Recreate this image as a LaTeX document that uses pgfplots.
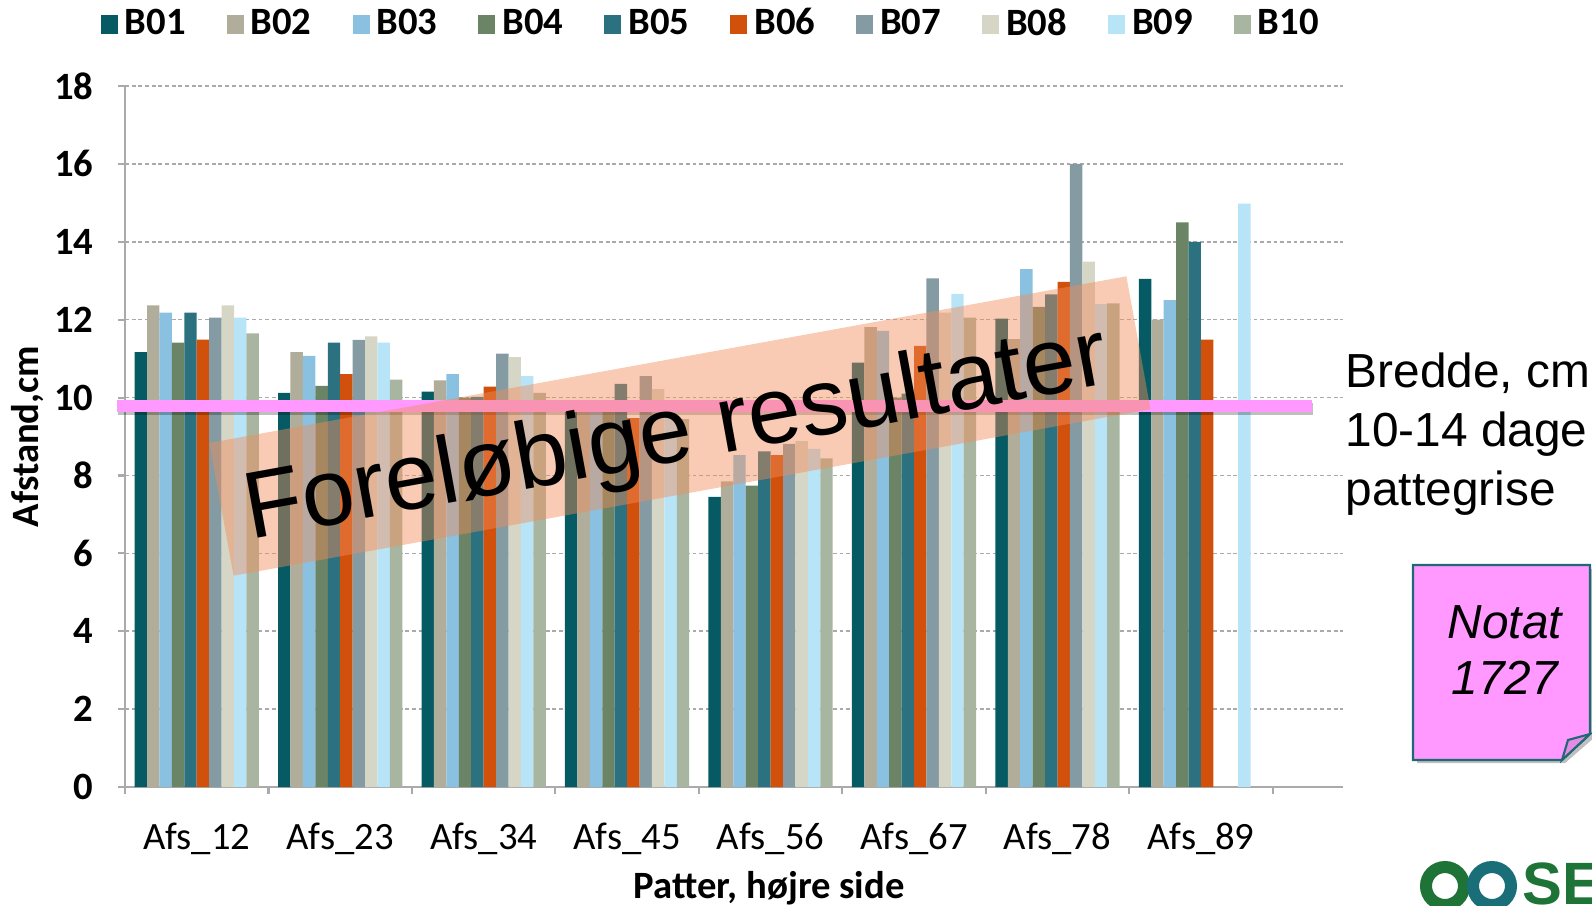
\documentclass[border=0pt]{standalone}
\usepackage{fontspec}
\setmainfont{Carlito}
\newfontfamily\arial{Liberation Sans}
\usepackage{pgfplots}
\pgfplotsset{compat=1.18}
\definecolor{cB01}{RGB}{5,90,99}
\definecolor{cB02}{RGB}{176,174,154}
\definecolor{cB03}{RGB}{139,193,224}
\definecolor{cB04}{RGB}{107,132,102}
\definecolor{cB05}{RGB}{43,113,128}
\definecolor{cB06}{RGB}{208,80,12}
\definecolor{cB07}{RGB}{133,155,163}
\definecolor{cB08}{RGB}{214,214,198}
\definecolor{cB09}{RGB}{184,228,248}
\definecolor{cB10}{RGB}{168,181,160}
\definecolor{gridgray}{RGB}{170,170,170}
\definecolor{pinkline}{RGB}{255,153,255}
\definecolor{ovl}{RGB}{242,140,90}
\definecolor{notefill}{RGB}{255,153,255}
\definecolor{noteedge}{RGB}{30,105,115}
\definecolor{logogreen}{RGB}{30,115,55}
\definecolor{logoteal}{RGB}{25,110,120}
\pgfplotsset{sqlegend/.style={legend image code/.code={\fill[##1] (0cm,-0.095cm) rectangle (0.17cm,0.095cm);}}}
\begin{document}
\begin{tikzpicture}
\path[use as bounding box] (0,0) rectangle (15.92,-9.05);
\begin{scope}
\clip (0,0) rectangle (15.92,-9.05);
\begin{axis}[
  at={(1.25cm,-7.87cm)}, anchor=south west,
  scale only axis, width=12.18cm, height=7.01cm,
  ybar, bar width=0.0866,
  xmin=-0.5, xmax=7.99, ymin=0, ymax=18,
  axis lines*=left,
  axis line style={-, draw=gridgray, line width=0.7pt},
  xtick={0,...,7},
  xticklabels={Afs\_12,Afs\_23,Afs\_34,Afs\_45,Afs\_56,Afs\_67,Afs\_78,Afs\_89},
  major x tick style={draw=none},
  minor xtick={-0.5,0.5,...,7.5},
  minor tick length=0.07cm,
  major tick length=0.07cm,
  tick align=outside,
  tick style={draw=gridgray, line width=0.6pt},
  ytick={0,2,...,18},
  ymajorgrids,
  grid style={draw=gridgray, line width=0.45pt, dash pattern=on 1.1pt off 0.8pt},
  /pgf/number format/assume math mode=true,
  tick label style={font=\fontsize{11pt}{13pt}\selectfont},
  yticklabel style={font=\fontsize{11pt}{13pt}\selectfont\bfseries, xshift=-0.12cm},
  xticklabel style={yshift=-0.17cm},
  ylabel={Afstand,cm},
  ylabel style={at={(axis description cs:-0.0797,0.5)}, anchor=center, font=\fontsize{11pt}{13pt}\selectfont\bfseries},
  xlabel={Patter, højre side},
  xlabel style={at={(axis description cs:0.529,-0.145)}, anchor=center, font=\fontsize{11pt}{13pt}\selectfont\bfseries},
  legend columns=10,
  legend style={at={(axis description cs:0.483,1.088)}, anchor=center, draw=none, fill=none,
    font=\fontsize{11pt}{13pt}\selectfont\bfseries,
    /tikz/every even column/.append style={column sep=0.34cm}},
]
\addplot[sqlegend, fill=cB01, draw=none, bar shift=-0.3897] coordinates {(0,11.17) (1,10.12) (2,10.15) (3,9.85) (4,7.45) (5,10.90) (6,12.03) (7,13.05)};
\addplot[sqlegend, fill=cB02, draw=none, bar shift=-0.3031] coordinates {(0,12.37) (1,11.17) (2,10.44) (3,9.85) (4,7.85) (5,11.81) (6,11.50) (7,12.00)};
\addplot[sqlegend, fill=cB03, draw=none, bar shift=-0.2165] coordinates {(0,12.18) (1,11.07) (2,10.60) (3,9.80) (4,8.52) (5,11.71) (6,13.30) (7,12.50)};
\addplot[sqlegend, fill=cB04, draw=none, bar shift=-0.1299] coordinates {(0,11.41) (1,10.30) (2,10.00) (3,9.90) (4,7.74) (5,10.00) (6,12.33) (7,14.50)};
\addplot[sqlegend, fill=cB05, draw=none, bar shift=-0.0433] coordinates {(0,12.18) (1,11.41) (2,10.02) (3,10.35) (4,8.62) (5,10.10) (6,12.65) (7,14.00)};
\addplot[sqlegend, fill=cB06, draw=none, bar shift=0.0433] coordinates {(0,11.49) (1,10.60) (2,10.28) (3,9.47) (4,8.52) (5,11.33) (6,12.97) (7,11.49)};
\addplot[sqlegend, fill=cB07, draw=none, bar shift=0.1299] coordinates {(0,12.05) (1,11.48) (2,11.13) (3,10.55) (4,8.81) (5,13.06) (6,16.00)};
\addplot[sqlegend, fill=cB08, draw=none, bar shift=0.2165] coordinates {(0,12.37) (1,11.57) (2,11.04) (3,10.22) (4,8.88) (5,12.18) (6,13.49)};
\addplot[sqlegend, fill=cB09, draw=none, bar shift=0.3031] coordinates {(0,12.05) (1,11.41) (2,10.55) (3,9.60) (4,8.68) (5,12.66) (6,12.40) (7,14.98)};
\addplot[sqlegend, fill=cB10, draw=none, bar shift=0.3897] coordinates {(0,11.65) (1,10.46) (2,10.12) (3,9.45) (4,8.44) (5,12.05) (6,12.42)};
\legend{B01,B02,B03,B04,B05,B06,B07,B08,B09,B10}
\end{axis}
% pink reference line with shadow
\draw[black, opacity=0.25, line width=0.12cm] (1.18,-4.09) -- (13.13,-4.09);
\draw[pinkline, line width=0.12cm] (1.17,-4.06) -- (13.12,-4.06);
% overlay box and text
\node[rotate=10.3, minimum width=9.32cm, minimum height=1.35cm, fill=ovl, fill opacity=0.45, inner sep=0] at (6.80,-4.26) {};
\node[rotate=10.3, inner sep=0, font=\arial\fontsize{27pt}{30pt}\selectfont] at (6.77,-4.37) {Foreløbige resultater};
% side text
\node[anchor=base west, inner sep=0, font=\arial\fontsize{13.6pt}{16pt}\selectfont] at (13.45,-3.87) {Bredde, cm};
\node[anchor=base west, inner sep=0, font=\arial\fontsize{13.6pt}{16pt}\selectfont] at (13.45,-4.46) {10-14 dage};
\node[anchor=base west, inner sep=0, font=\arial\fontsize{13.6pt}{16pt}\selectfont] at (13.45,-5.05) {pattegrise};
% note
\fill[black, opacity=0.25] (14.17,-5.69) -- (15.95,-5.69) -- (15.95,-7.37) -- (15.65,-7.63) -- (14.17,-7.63) -- cycle;
\filldraw[fill=notefill, draw=noteedge, line width=0.6pt] (14.13,-5.65) -- (15.90,-5.65) -- (15.90,-7.34) -- (15.62,-7.60) -- (14.13,-7.60) -- cycle;
\filldraw[fill=notefill!75!black!40!notefill, draw=noteedge, line width=0.6pt] (15.62,-7.60) -- (15.90,-7.34) -- (15.68,-7.40) -- cycle;
\node[anchor=base, inner sep=0, font=\arial\itshape\fontsize{13.6pt}{16pt}\selectfont] at (15.05,-6.38) {Notat};
\node[anchor=base, inner sep=0, font=\arial\itshape\fontsize{13.6pt}{16pt}\selectfont] at (15.05,-6.94) {1727};
% logo (partly outside the picture)
\draw[logogreen, line width=0.12cm] (14.45,-8.86) circle (0.19);
\draw[logoteal, line width=0.12cm] (14.92,-8.86) circle (0.19);
\node[anchor=north west, inner sep=0, text=logogreen, font=\arial\bfseries\fontsize{17pt}{19pt}\selectfont] at (15.22,-8.62) {SEG};
\end{scope}
\end{tikzpicture}
\end{document}
